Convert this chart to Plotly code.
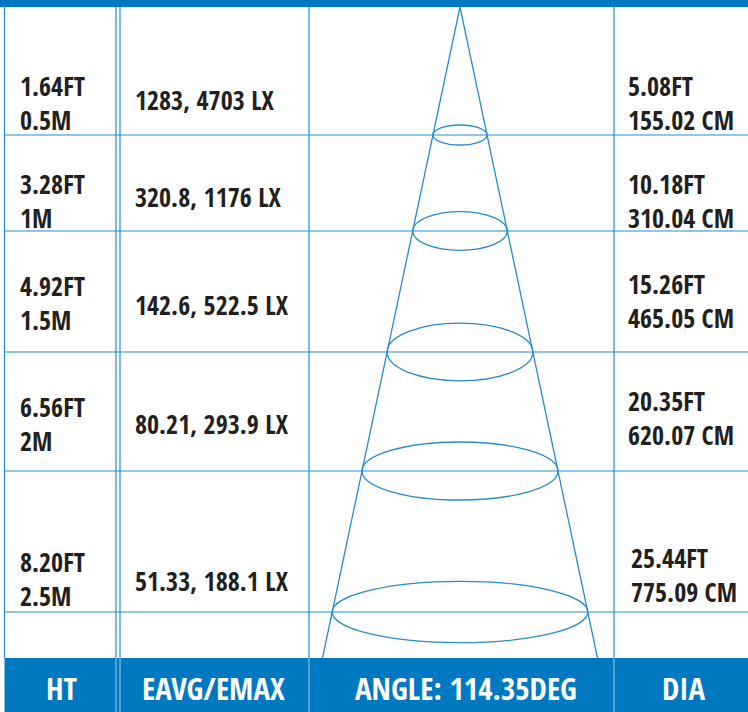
import plotly.graph_objects as go

# ---- data ----
heights_ft = ["1.64FT", "3.28FT", "4.92FT", "6.56FT", "8.20FT"]
heights_m = ["0.5M", "1M", "1.5M", "2M", "2.5M"]
eavg = ["1283", "320.8", "142.6", "80.21", "51.33"]
emax = ["4703", "1176", "522.5", "293.9", "188.1"]
dia_ft = ["5.08FT", "10.18FT", "15.26FT", "20.35FT", "25.44FT"]
dia_cm = ["155.02 CM", "310.04 CM", "465.05 CM", "620.07 CM", "775.09 CM"]
footer_labels = ["HT", "EAVG/EMAX", "ANGLE: 114.35DEG", "DIA"]

# ---- layout (pixel geometry) ----
W, H = 748, 712
BLUE = "#0079C1"
LINE = "#2B8BCB"
TEXT = "#231F20"
FONT = "Open Sans Condensed, Roboto Condensed, sans-serif"

top_bar = 7
bot_bar = 658
left_x = 4.5
col_x = [116, 120, 309, 614]
row_y = [135, 231, 352, 471, 612]
ell_ry = [10, 19.3, 28.8, 29, 30.7]
apex = (460, 7)
cone_half_bottom = 137.5
slope = cone_half_bottom / (bot_bar - apex[1])

left_y = [102.5, 201, 303, 423.5, 578.5]
mid_y = [100, 197, 305, 424, 580.5]
right_y = [102.5, 200.5, 301, 417.5, 574.5]
right_x = [626, 626, 626, 626, 629]
footer_x = [61, 213, 466, 684]
footer_y = 688

fig = go.Figure()
fig.add_trace(go.Scatter(x=[0, W], y=[0, H], mode="markers",
                         marker=dict(opacity=0), hoverinfo="skip", showlegend=False))

shapes = []
shapes.append(dict(type="rect", x0=0, x1=W, y0=0, y1=top_bar, fillcolor=BLUE, line_width=0, layer="above"))
shapes.append(dict(type="rect", x0=left_x, x1=W, y0=bot_bar, y1=H, fillcolor=BLUE, line_width=0, layer="below"))
shapes.append(dict(type="line", x0=left_x, x1=left_x, y0=top_bar, y1=bot_bar, line=dict(color=LINE, width=1.3)))
for cx in col_x:
    shapes.append(dict(type="line", x0=cx, x1=cx, y0=top_bar, y1=bot_bar, line=dict(color=LINE, width=1.2)))
    shapes.append(dict(type="line", x0=cx, x1=cx, y0=bot_bar, y1=H, line=dict(color="rgba(255,255,255,0.65)", width=1)))
for ry in row_y:
    shapes.append(dict(type="line", x0=left_x, x1=W, y0=ry, y1=ry, line=dict(color=LINE, width=1.2)))
shapes.append(dict(type="path",
                   path=f"M {apex[0]-cone_half_bottom},{bot_bar} L {apex[0]},{apex[1]} L {apex[0]+cone_half_bottom},{bot_bar}",
                   line=dict(color=LINE, width=1.3)))
for ry, ery in zip(row_y, ell_ry):
    rx = slope * (ry - apex[1])
    shapes.append(dict(type="circle", x0=apex[0]-rx, x1=apex[0]+rx, y0=ry-ery, y1=ry+ery,
                       line=dict(color=LINE, width=1.3)))

ann = []
def add(text, x, y, size, color=TEXT, xanchor="left"):
    ann.append(dict(text=text, x=x, y=y, xref="x", yref="y", showarrow=False,
                    xanchor=xanchor, yanchor="middle", align="left",
                    font=dict(family=FONT, size=size, color=color, weight="bold")))

for i in range(5):
    add(f"{heights_ft[i]}<br>{heights_m[i]}", 18, left_y[i], 26)
    add(f"{eavg[i]}, {emax[i]} LX", 133, mid_y[i], 26)
    add(f"{dia_ft[i]}<br>{dia_cm[i]}", right_x[i], right_y[i], 26)
for lab, fx in zip(footer_labels, footer_x):
    add(lab, fx, footer_y, 31, color="white", xanchor="center")

fig.update_layout(
    width=W, height=H, margin=dict(l=0, r=0, t=0, b=0),
    paper_bgcolor="white", plot_bgcolor="white",
    xaxis=dict(range=[0, W], visible=False, fixedrange=True),
    yaxis=dict(range=[H, 0], visible=False, fixedrange=True),
    shapes=shapes, annotations=ann, showlegend=False,
)

fig.write_html("out.html", post_script="document.body.style.margin='0';",
               config={"displayModeBar": False})
